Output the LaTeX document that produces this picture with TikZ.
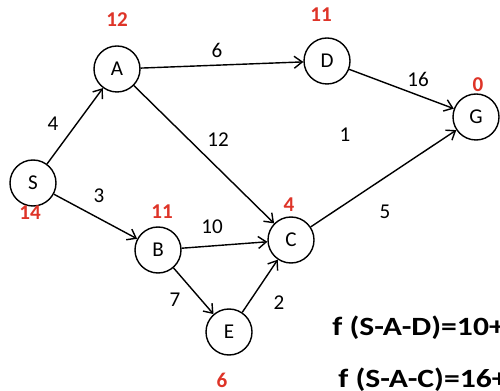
\documentclass[tikz,border=0pt]{standalone}
\usepackage{fontspec}
\setmainfont{Carlito}
\usetikzlibrary{arrows.meta}
\definecolor{costred}{RGB}{222,52,40}
\tikzset{
    vertex/.style={circle,draw,thick,minimum size=0.92cm,inner sep=0pt,font=\fontsize{12}{14}\selectfont},
    cost/.style={text=costred,font=\bfseries\fontsize{12}{14}\selectfont},
    weight/.style={font=\fontsize{12}{14}\selectfont},
    edge/.style={thick,-{Straight Barb[length=1.6mm,width=2.4mm]}},
    formula/.style={anchor=base west,inner sep=0pt,transform shape,xscale=1.2,font=\bfseries\fontsize{15}{18}\selectfont}
}
\begin{document}
\begin{tikzpicture}
    \clip (0,0) rectangle (10,7.8);
    \useasboundingbox (0,0) rectangle (10,7.8);
    \node[vertex] (S) at (0.66,4.14) {S};
    \node[vertex] (A) at (2.34,6.42) {A};
    \node[vertex] (D) at (6.54,6.58) {D};
    \node[vertex] (G) at (9.52,5.46) {G};
    \node[vertex] (B) at (3.16,2.80) {B};
    \node[vertex] (C) at (5.82,3.00) {C};
    \node[vertex] (E) at (4.58,1.16) {E};
    \draw[edge] (S) -- (A);
    \draw[edge] (S) -- (B);
    \draw[edge] (A) -- (D);
    \draw[edge] (A) -- (C);
    \draw[edge] (B) -- (C);
    \draw[edge] (B) -- (E);
    \draw[edge] (E) -- (C);
    \draw[edge] (D) -- (G);
    \draw[edge] (C) -- (G);
    \node[cost] (cS) at (0.60,3.54) {14};
    \node[cost] (cA) at (2.34,7.40) {12};
    \node[cost] (cD) at (6.42,7.50) {11};
    \node[cost] (cG) at (9.56,6.10) {0};
    \node[cost] (cB) at (3.24,3.56) {11};
    \node[cost] (cC) at (5.78,3.70) {4};
    \node[cost] (cE) at (4.44,0.20) {6};
    \node[weight] (wSA) at (1.06,5.32) {4};
    \node[weight] (wSB) at (1.98,3.88) {3};
    \node[weight] (wAD) at (4.34,6.80) {6};
    \node[weight] (wAC) at (4.36,5.00) {12};
    \node[weight] (wDG) at (8.36,6.22) {16};
    \node[weight] (wCG) at (7.70,3.56) {5};
    \node[weight] (wBC) at (4.24,3.26) {10};
    \node[weight] (wBE) at (3.50,1.80) {7};
    \node[weight] (wEC) at (5.58,1.74) {2};
    \node[weight] (w1) at (6.90,5.10) {1};
    \node[formula] (f1) at (6.64,1.08) {f (S-A-D)=10+};
    \node[formula] (f2) at (6.76,0.06) {f (S-A-C)=16+};
\end{tikzpicture}
\end{document}
